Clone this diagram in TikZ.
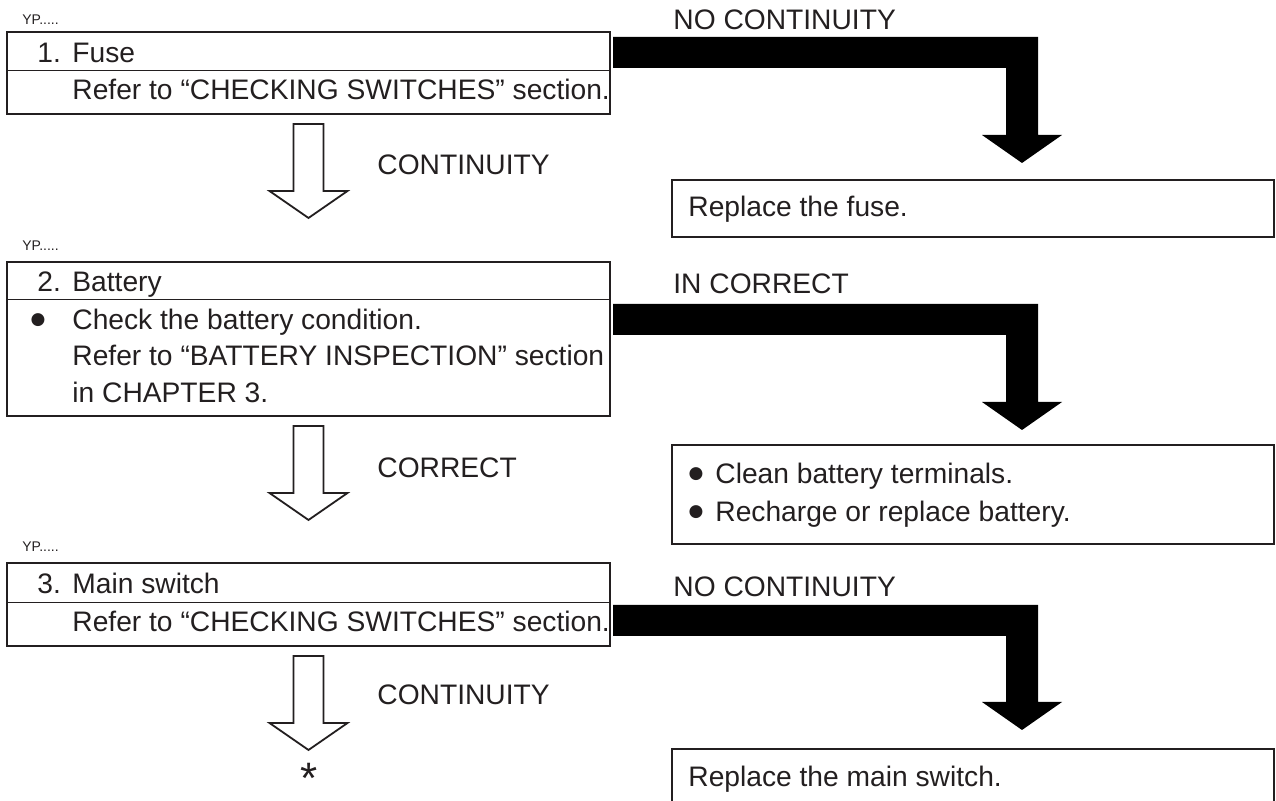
\documentclass[tikz,border=0pt]{standalone}
\usepackage{fontspec}
\setmainfont{Liberation Sans}
\newfontfamily\symfont{DejaVu Sans}
\usetikzlibrary{calc}
\definecolor{ink}{RGB}{35,31,32}
\newcommand\blackarrow[2]{%
  \fill[black] (613,#1) -- (1038,#1) -- (1038,{#2-28}) -- (1062,{#2-28}) -- (1022,#2)
    -- (982,{#2-28}) -- (1006,{#2-28}) -- (1006,{#1+31}) -- (613,{#1+31}) -- cycle;}
\newcommand\hollowarrow[1]{%
  \draw[hollow] ($(#1.south)+(-15,10)$) -- ($(#1.south)+(15,10)$) -- ($(#1.south)+(15,77)$)
    -- ($(#1.south)+(39,77)$) -- ($(#1.south)+(0,104)$) -- ($(#1.south)+(-39,77)$)
    -- ($(#1.south)+(-15,77)$) -- cycle;}
\begin{document}
\begin{tikzpicture}[x=0.5pt,y=-0.5pt,
  box/.style={draw=ink,line width=1.4pt,inner sep=0pt,outer sep=0pt,anchor=north west},
  rule/.style={draw=ink,line width=0.5pt},
  txt/.style={anchor=base west,inner sep=0pt,text=ink,font=\fontsize{14.1}{16}\selectfont},
  yp/.style={anchor=base west,inner sep=0pt,text=ink,font=\fontsize{7}{8}\selectfont},
  bul/.style={anchor=center,inner sep=0pt,text=ink,font=\symfont\fontsize{8.5}{9}\selectfont},
  hollow/.style={draw=ink,line width=0.9pt,fill=white,line join=miter}]
\useasboundingbox (0,0) rectangle (1276,801);

% ---- left column boxes
\node[yp] (yp1) at (22,25) {YP.....};
\node[box,minimum width=301.5pt,minimum height=41pt] (b1) at (7,32) {};
\draw[rule] (7,71) -- (610,71);
\node[txt] (n1) at (37,63) {1.};
\node[txt] (t1) at (72,63) {Fuse};
\node[txt] (t1r) at (72,100) {Refer to “CHECKING SWITCHES” section.};

\node[yp] (yp2) at (22,251) {YP.....};
\node[box,minimum width=301.5pt,minimum height=77pt] (b2) at (7,262) {};
\draw[rule] (7,300) -- (610,300);
\node[txt] (n2) at (37,292) {2.};
\node[txt] (t2) at (72,292) {Battery};
\node[bul] (bl2) at (38,320) {●};
\node[txt] (t2a) at (72,330) {Check the battery condition.};
\node[txt] (t2b) at (72,366) {Refer to “BATTERY INSPECTION” section};
\node[txt] (t2c) at (72,403) {in CHAPTER 3.};

\node[yp] (yp3) at (22,552) {YP.....};
\node[box,minimum width=301.5pt,minimum height=41.5pt] (b3) at (7,563) {};
\draw[rule] (7,603) -- (610,603);
\node[txt] (n3) at (37,594) {3.};
\node[txt] (t3) at (72,594) {Main switch};
\node[txt] (t3r) at (72,632) {Refer to “CHECKING SWITCHES” section.};

% ---- hollow arrows
\hollowarrow{b1}
\hollowarrow{b2}
\hollowarrow{b3}
\node[txt] (c1) at (377,175) {CONTINUITY};
\node[txt] (c2) at (377,478) {CORRECT};
\node[txt] (c3) at (377,705) {CONTINUITY};
\node[anchor=center,inner sep=0pt,text=ink,font=\fontsize{22}{22}\selectfont] (ast) at (309,778) {*};

% ---- black arrows
\node[txt] (nc1) at (673,30) {NO CONTINUITY};
\blackarrow{37}{163}
\node[txt] (ic2) at (673,294) {IN CORRECT};
\blackarrow{304}{430}
\node[txt] (nc3) at (673,597) {NO CONTINUITY};
\blackarrow{605}{730}

% ---- right boxes
\node[box,minimum width=301pt,minimum height=28.5pt] (r1) at (672,180) {};
\node[txt] (rt1) at (688,217) {Replace the fuse.};

\node[box,minimum width=301pt,minimum height=49.5pt] (r2) at (672,445) {};
\node[bul] (rb1) at (696,474) {●};
\node[txt] (rt2a) at (715,484) {Clean battery terminals.};
\node[bul] (rb2) at (696,512) {●};
\node[txt] (rt2b) at (715,522) {Recharge or replace battery.};

\draw[ink,line width=1.4pt] (672,820) -- (672,749) -- (1274,749) -- (1274,820);
\node[txt] (rt3) at (688,787) {Replace the main switch.};
\end{tikzpicture}
\end{document}
